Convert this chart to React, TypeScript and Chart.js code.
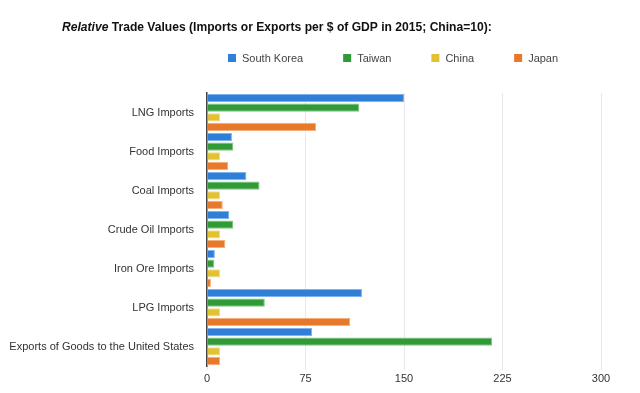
import React, { useEffect, useRef } from "react";
import { Chart, registerables } from "chart.js";

Chart.register(...registerables);

const categories = [
  "LNG Imports",
  "Food Imports",
  "Coal Imports",
  "Crude Oil Imports",
  "Iron Ore Imports",
  "LPG Imports",
  "Exports of Goods to the United States",
];
const seriesNames = ["South Korea", "Taiwan", "China", "Japan"];
const southKorea = [150, 19, 30, 17, 6, 118, 80];
const taiwan = [116, 20, 40, 20, 5.5, 44, 217];
const china = [10, 10, 10, 10, 10, 10, 10];
const japan = [83, 16, 12, 14, 3, 109, 10];
const xTicks = [0, 75, 150, 225, 300];

const colors = ["#2f7fd8", "#2f9a36", "#e2c232", "#e8792a"];
const borders = ["#7fb2ee", "#7cc582", "#f1de84", "#f3b07e"];

const FONT = "'Liberation Sans', Arial, Helvetica, sans-serif";

const headerPlugin = {
  id: "header",
  afterDraw(chart: any) {
    const ctx = chart.ctx;
    ctx.save();
    // Title
    ctx.textBaseline = "alphabetic";
    ctx.fillStyle = "#111";
    let x = 62;
    const ty = 31;
    ctx.font = `italic bold 12.1px ${FONT}`;
    ctx.fillText("Relative", x, ty);
    x += ctx.measureText("Relative").width;
    ctx.font = `bold 12.1px ${FONT}`;
    ctx.fillText(" Trade Values (Imports or Exports per $ of GDP in 2015; China=10):", x, ty);
    // Legend
    ctx.font = `11px ${FONT}`;
    ctx.textBaseline = "middle";
    let lx = 228;
    const ly = 58;
    seriesNames.forEach((name, i) => {
      ctx.fillStyle = colors[i];
      ctx.fillRect(lx, ly - 4, 8, 8);
      lx += 14;
      ctx.fillStyle = "#444";
      ctx.fillText(name, lx, ly + 0.5);
      lx += ctx.measureText(name).width + 40;
    });
    ctx.restore();
  },
};

export default function App() {
  const ref = useRef<HTMLCanvasElement | null>(null);
  useEffect(() => {
    document.body.style.margin = "0";
    const data = [southKorea, taiwan, china, japan];
    const chart = new Chart(ref.current as HTMLCanvasElement, {
      type: "bar",
      data: {
        labels: categories,
        datasets: seriesNames.map((name, i) => ({
          label: name,
          data: data[i],
          backgroundColor: colors[i],
          borderColor: borders[i],
          borderWidth: 1,
          borderSkipped: "start" as any,
          categoryPercentage: 0.98,
          barPercentage: 0.86,
        })),
      },
      options: {
        indexAxis: "y",
        animation: false,
        responsive: false,
        maintainAspectRatio: false,
        layout: { padding: { top: 93, right: 39, left: 0, bottom: 0 } },
        plugins: {
          legend: { display: false },
          title: { display: false },
          tooltip: { enabled: false },
        },
        scales: {
          x: {
            min: 0,
            max: 300,
            afterBuildTicks: (scale: any) => {
              scale.ticks = xTicks.map((v) => ({ value: v }));
            },
            afterFit: (scale: any) => {
              scale.height = 27;
            },
            grid: {
              color: "#e8e8e8",
              lineWidth: 1,
              drawTicks: true,
              tickLength: 4,
            },
            border: { display: false },
            ticks: {
              color: "#333",
              font: { family: FONT, size: 11 },
              padding: 2,
            },
          },
          y: {
            afterFit: (scale: any) => {
              scale.width = 207;
            },
            grid: { display: false, drawTicks: false },
            border: { display: true, color: "#444", width: 1.5 },
            ticks: {
              color: "#333",
              font: { family: FONT, size: 11 },
              padding: 13,
            },
          },
        },
      },
      plugins: [headerPlugin],
    });
    return () => chart.destroy();
  }, []);
  return (
    <div style={{ width: 640, height: 393, position: "relative" }}>
      <canvas ref={ref} width={640} height={393} style={{ display: "block" }} />
    </div>
  );
}
